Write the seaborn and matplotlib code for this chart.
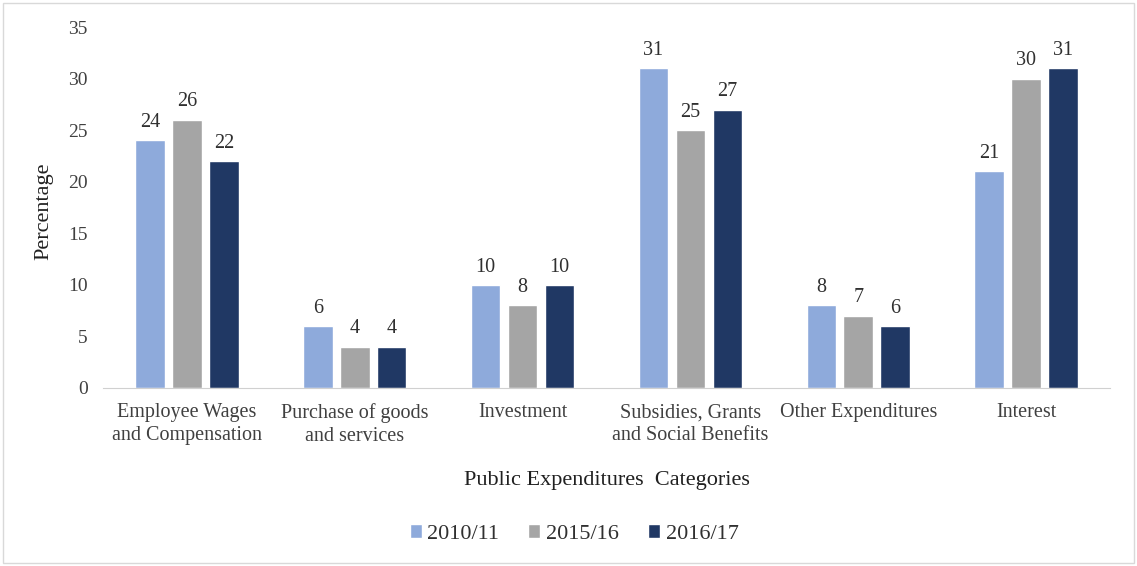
import matplotlib
matplotlib.use("Agg")
import matplotlib.pyplot as plt
import seaborn as sns
import pandas as pd
from matplotlib.patches import Rectangle

categories = ["Employee Wages\nand Compensation", "Purchase of goods\nand services", "Investment",
              "Subsidies, Grants\nand Social Benefits", "Other Expenditures", "Interest"]
years = ["2010/11", "2015/16", "2016/17"]
v2010 = [24, 6, 10, 31, 8, 21]
v2015 = [26, 4, 8, 25, 7, 30]
v2016 = [22, 4, 10, 27, 6, 31]
colors = ["#8eaadb", "#a5a5a5", "#203864"]

rows = []
for yr, vals in zip(years, [v2010, v2015, v2016]):
    for c, v in zip(categories, vals):
        rows.append({"Category": c, "Year": yr, "Value": v})
df = pd.DataFrame(rows)

sns.set_style("white")
plt.rcParams['font.family'] = ['Liberation Serif', 'DejaVu Serif']

fig = plt.figure(figsize=(11.37, 5.66), dpi=100)
ax = fig.add_axes([103/1137, 1 - 388/566, (1110-103)/1137, (388-27)/566])
sns.barplot(data=df, x="Category", y="Value", hue="Year", palette=colors,
            width=0.66, gap=0.2, ax=ax, saturation=1)
ax.set_ylim(0, 35)
ax.set_xlim(-0.5, 5.5)
ax.set_yticks(range(0, 36, 5))
ax.tick_params(axis='x', labelsize=14.5, colors="#404040", length=0, pad=11)
ax.tick_params(axis='y', labelsize=14, colors="#404040", length=0, pad=11)
for lab in ax.get_xticklabels():
    lab.set_linespacing(1.3)
for s in ["top", "right", "left"]:
    ax.spines[s].set_visible(False)
ax.spines["bottom"].set_color("#d0d0d0")
ax.set_xlabel("Public Expenditures  Categories", fontsize=16, color="#202020", labelpad=18)
ax.set_ylabel("Percentage", fontsize=16, color="#202020")
for cont in ax.containers:
    ax.bar_label(cont, fmt="%d", padding=6, fontsize=14.5, color="#303030")
ax.legend(loc="center", bbox_to_anchor=(574/1137, 1 - 534/566), bbox_transform=fig.transFigure,
          ncol=3, frameon=False, fontsize=16, handlelength=0.55, handleheight=0.55,
          handletextpad=0.25, columnspacing=1.3, labelcolor="#303030")
ax.yaxis.set_label_coords(-(103-53)/1007, 0.49)
fig.patches.append(Rectangle((3/1137, 3/566), 1 - 6/1137, 1 - 6/566, transform=fig.transFigure,
                             fill=False, edgecolor="#d9d9d9", linewidth=1))
fig.savefig("out.png", dpi=100)
